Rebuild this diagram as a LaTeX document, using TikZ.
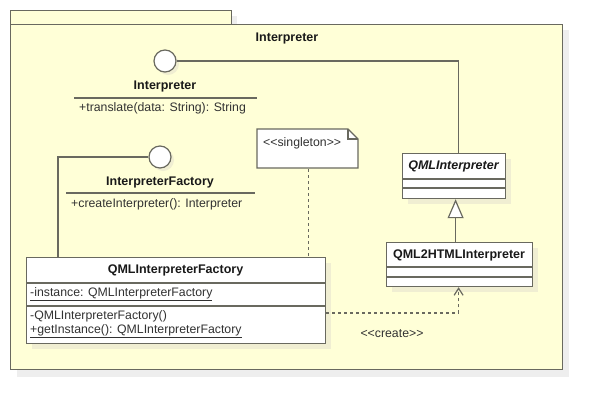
\documentclass[tikz,border=0pt]{standalone}
\usepackage{fontspec}
\setmainfont{Liberation Sans}[Ligatures=TeXOff]
\usetikzlibrary{arrows.meta,calc,shapes.misc}
\definecolor{pkgfill}{RGB}{255,255,215}
\definecolor{edge}{RGB}{105,105,95}
\definecolor{shadowY}{RGB}{240,238,210}
\definecolor{shadowG}{RGB}{238,238,238}
\definecolor{txt}{RGB}{25,25,25}
\definecolor{soft}{RGB}{50,50,50}
\newcommand{\gl}{<\kern0pt}
\newcommand{\gr}{>\kern0pt}
\tikzset{
  every node/.style={font=\fontsize{12.3}{14}\selectfont, text=txt, inner sep=0pt},
  pkg/.style={draw=edge, fill=pkgfill, line width=1.2pt},
  classbox/.style={draw=edge, fill=white, line width=1.2pt, anchor=north west, inner sep=0pt},
  boxshadow/.style={fill=shadowY, draw=none},
  title/.style={font=\bfseries\fontsize{12.5}{14}\selectfont},
  member/.style={anchor=west, text=soft},
  stereo/.style={text=soft, font=\fontsize{12.3}{14}\selectfont},
  iface/.style={circle, draw=edge, fill=white, line width=1.2pt, minimum size=22pt},
  wire/.style={draw=edge, line width=1.2pt},
  dep/.style={draw=edge, line width=1.2pt, dash pattern=on 3pt off 3pt},
  gen/.style={draw=edge, line width=1.2pt, -{Triangle[open, length=19pt, width=16pt, fill=white]}},
  notebox/.style={draw=edge, fill=white, line width=1.2pt, anchor=north west, inner sep=0pt},
}
\begin{document}
\begin{tikzpicture}[x=1pt,y=-1pt]
\useasboundingbox (0,0) rectangle (602,410);
% package shadows
\fill[shadowG] (231,16) rectangle (237,24);
\fill[shadowG] (17,30) rectangle (569,377);
% package
\node[pkg, anchor=north west, minimum width=221pt, minimum height=14pt] (tab) at (10,10) {};
\node[pkg, anchor=north west, minimum width=552pt, minimum height=345pt] (pkgbody) at (10,24) {};
\node[title] (pkgname) at (287,38) {Interpreter};

% interface Interpreter
\fill[shadowY] (168,64) circle (11);
\node[iface] (if1) at (165,61) {};
\node[title] (if1name) at (165,86) {Interpreter};
\draw[wire] (74,98) -- (257,98);
\node[member] (if1m) at (79,108) {+translate(data: String): String};

% interface InterpreterFactory
\fill[shadowY] (163,160) circle (11);
\node[iface] (if2) at (160,157) {};
\node[title] (if2name) at (160,182) {InterpreterFactory};
\draw[wire] (66,193) -- (255,193);
\node[member] (if2m) at (71,204) {+createInterpreter(): Interpreter};

% note
\node[notebox, minimum width=101pt, minimum height=39pt, draw=none, fill=none] (note) at (257,129) {};
\draw[wire, fill=white] (257,129) -- (348,129) -- (358,139) -- (358,168) -- (257,168) -- cycle;
\draw[wire] (348,129) -- (348,139) -- (358,139);
\node[stereo, anchor=west] (notetext) at (263,143) {\gl\gl singleton\gr\gr};

% QMLInterpreter
\fill[boxshadow] (408,159) rectangle (511,204);
\node[classbox, minimum width=103pt, minimum height=45pt] (qmli) at (402,153) {};
\draw[wire] (402,179) -- (505,179);
\draw[wire] (402,188) -- (505,188);
\node[font=\bfseries\itshape\fontsize{12.5}{14}\selectfont] (qmliname) at (453.5,166) {QMLInterpreter};

% QML2HTMLInterpreter
\fill[boxshadow] (392,248) rectangle (538,292);
\node[classbox, minimum width=146pt, minimum height=44pt] (q2h) at (386,242) {};
\draw[wire] (386,267) -- (532,267);
\draw[wire] (386,277) -- (532,277);
\node[title] (q2hname) at (459,255) {QML2HTMLInterpreter};

% QMLInterpreterFactory
\fill[boxshadow] (32,263) rectangle (331,349);
\node[classbox, minimum width=299pt, minimum height=86pt] (qf) at (26,257) {};
\draw[wire] (26,283) -- (325,283);
\draw[wire] (26,306) -- (325,306);
\node[title] (qfname) at (175.5,270) {QMLInterpreterFactory};
\node[member] (qfa) at (30,294) {\underline{-instance: QMLInterpreterFactory}};
\node[member] (qfm1) at (30,316) {-QMLInterpreterFactory()};
\node[member] (qfm2) at (30,331) {\underline{+getInstance(): QMLInterpreterFactory}};

% connectors
\coordinate (qmliTop) at ([xshift=4.5pt]qmli.north);
\draw[wire] (if1.east) -| (qmliTop);
\coordinate (qmliBot) at ([xshift=1.5pt]qmli.south);
\draw[gen] (q2h.north -| qmliBot) -- (qmliBot);
\coordinate (qfTop) at ([xshift=32pt]qf.north west);
\draw[wire] (if2.west) -| (qfTop);
\draw[dep] (note.south) -- (note.south |- qf.north);
\coordinate (depStart) at (qf.east |- 0,313);
\coordinate (depEnd) at ([xshift=-1pt]q2h.south);
\draw[dep, -{Straight Barb[length=7pt, width=9pt]}] (depStart) -| (depEnd);
\node[stereo] (create) at (392,334) {\gl\gl create\gr\gr};
\end{tikzpicture}
\end{document}
